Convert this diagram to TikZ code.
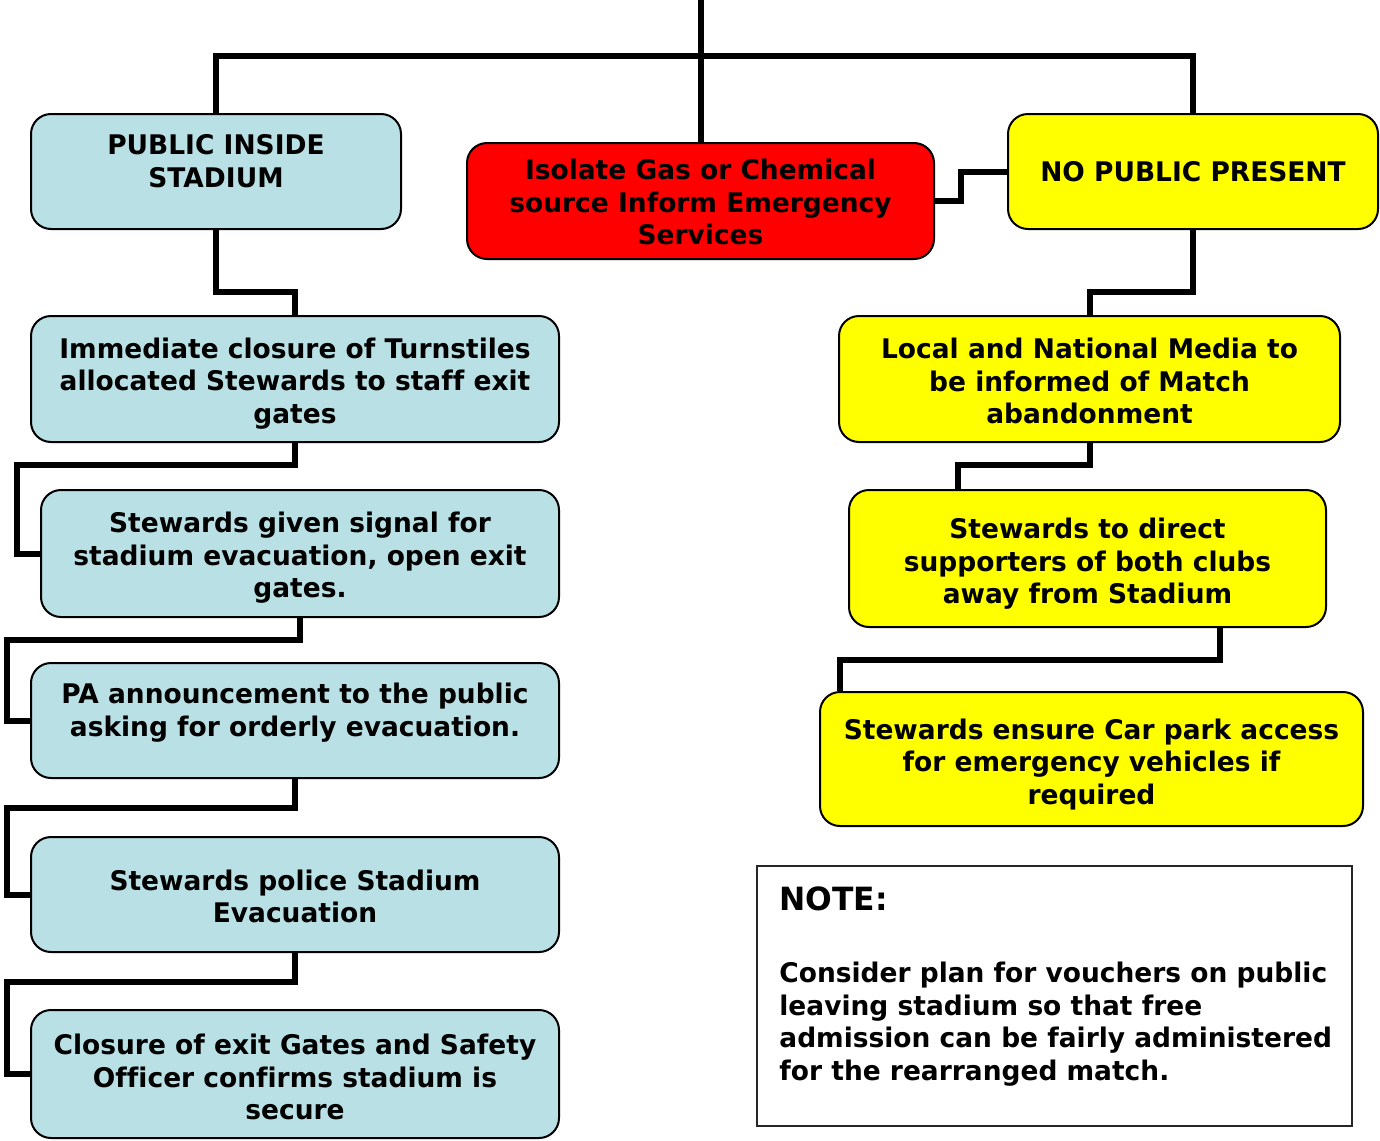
\documentclass[tikz,border=0pt]{standalone}
\usepackage{fontspec}
\usetikzlibrary{calc}
\newfontfamily\bx{DejaVu Sans Bold}[FakeStretch=0.98,Ligatures=NoCommon]
\definecolor{lb}{RGB}{185,224,228}
\definecolor{yel}{RGB}{255,255,0}
\definecolor{rd}{RGB}{255,0,0}
\tikzset{
 box/.style={draw=black, line width=1pt, rounded corners=10pt, inner sep=0pt},
 bluebox/.style={box, fill=lb},
 yelbox/.style={box, fill=yel},
 redbox/.style={box, fill=rd},
 lbl/.style={align=center, inner sep=0pt, font=\bx\fontsize{13.5}{16.25}\selectfont},
 conn/.style={line width=3pt, line join=miter},
 notebox/.style={draw=black!85, line width=1pt},
 notetext/.style={anchor=north west, inner sep=0pt, align=left, font=\bx\fontsize{13.5}{16.25}\selectfont},
 notehead/.style={anchor=base west, inner sep=0pt, font=\bx\fontsize{16}{19}\selectfont},
}
\begin{document}
\begin{tikzpicture}[x=0.5pt,y=-0.5pt]
\useasboundingbox (0,0) rectangle (1380,1140);
% boxes
\node[bluebox, minimum width=185pt, minimum height=57.5pt] (pub) at (216,171.5) {};
\node[redbox, minimum width=233.5pt, minimum height=58pt] (red) at (700.5,201) {};
\node[yelbox, minimum width=185pt, minimum height=57.5pt] (nopub) at (1193,171.5) {};
\node[bluebox, minimum width=264pt, minimum height=63pt] (imm) at (295,379) {};
\node[bluebox, minimum width=259pt, minimum height=63.5pt] (given) at (300,553.5) {};
\node[bluebox, minimum width=264pt, minimum height=57.5pt] (pa) at (295,720.5) {};
\node[bluebox, minimum width=264pt, minimum height=57.5pt] (police) at (295,894.5) {};
\node[bluebox, minimum width=264pt, minimum height=64pt] (closure) at (295,1074) {};
\node[yelbox, minimum width=250.5pt, minimum height=63pt] (media) at (1089.5,379) {};
\node[yelbox, minimum width=238.5pt, minimum height=68.5pt] (direct) at (1087.5,558.5) {};
\node[yelbox, minimum width=271.5pt, minimum height=67pt] (car) at (1091.5,759) {};
\node[notebox, minimum width=297.5pt, minimum height=130pt] (note) at (1054.5,996) {};
% texts
\node[lbl] (pubT) at ($(pub)+(0,-10.5)$) {PUBLIC INSIDE\\STADIUM};
\node[lbl] (redT) at ($(red)+(0,1)$) {Isolate Gas or Chemical\\source Inform Emergency\\Services};
\node[lbl] (nopubT) at (nopub) {NO PUBLIC PRESENT};
\node[lbl] (immT) at ($(imm)+(0,4.5)$) {Immediate closure of Turnstiles\\allocated Stewards to staff exit\\gates};
\node[lbl] (givenT) at ($(given)+(0,4.5)$) {Stewards given signal for\\stadium evacuation, open exit\\gates.};
\node[lbl] (paT) at ($(pa)+(0,2)$) {PA announcement to the public\\asking for orderly evacuation.\rule[-13pt]{0pt}{0pt}};
\node[lbl] (policeT) at ($(police)+(0,2)$) {Stewards police Stadium\\Evacuation};
\node[lbl] (closureT) at ($(closure)+(0,3)$) {Closure of exit Gates and Safety\\Officer confirms stadium is\\secure};
\node[lbl] (mediaT) at ($(media)+(0,2)$) {Local and National Media to\\be informed of Match\\abandonment};
\node[lbl] (directT) at ($(direct)+(0,5.5)$) {Stewards to direct\\supporters of both clubs\\away from Stadium};
\node[lbl] (carT) at ($(car)+(0,5.5)$) {Stewards ensure Car park access\\for emergency vehicles if\\required};
\node[notehead] (nhead) at (779,910) {NOTE:};
\node[notetext] (nbody) at (779,962) {Consider plan for vouchers on public\\leaving stadium so that free\\admission can be fairly administered\\for the rearranged match.};
\coordinate (top) at (700.5,0);
% connectors
\draw[conn] (top) -- (red.north);
\draw[conn] (pub.north) -- (pub.north |- 0,56) -- (nopub.north |- 0,56) -- (nopub.north);
\draw[conn] (red.east) -- ++(26,0) |- (nopub.west);
\draw[conn] (pub.south) -- (pub.south |- 0,292) -| (imm.north);
\draw[conn] (imm.south) -- (imm.south |- 0,465) -- (17,465) |- (given.west);
\draw[conn] (given.south) -- (given.south |- 0,640) -- (7,640) |- (pa.west);
\draw[conn] (pa.south) -- (pa.south |- 0,808) -- (7,808) |- (police.west);
\draw[conn] (police.south) -- (police.south |- 0,982) -- (7,982) |- (closure.west);
\draw[conn] (nopub.south) -- (nopub.south |- 0,292) -| (media.north);
\draw[conn] (media.south) -- (media.south |- 0,465) -| (direct.north -| 958,0);
\draw[conn] (direct.south -| 1220,0) -- (1220,660) -| (car.north -| 840,0);
\end{tikzpicture}
\end{document}
